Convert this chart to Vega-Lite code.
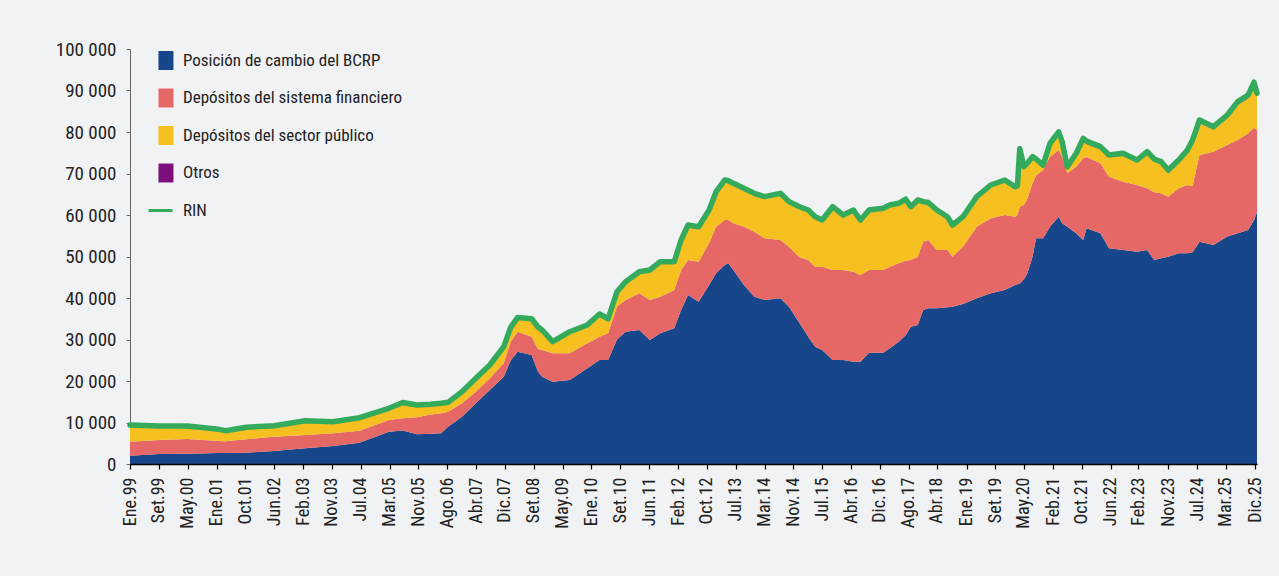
{
  "$schema": "https://vega.github.io/schema/vega-lite/v6.json",
  "width": 1127,
  "height": 415,
  "autosize": {"type": "none"},
  "padding": {"left": 130, "top": 49, "right": 22, "bottom": 112},
  "background": "#f1f2f4",
  "config": {"view": {"stroke": null}, "font": "Roboto Condensed, Liberation Sans Narrow, Arial Narrow, DejaVu Sans Condensed, sans-serif"},
  "data": {"values": [
    {"t":"1999-01-01","a":2000,"b":3370,"c":4030,"d":0,"r":9400},
    {"t":"1999-09-15","a":2410,"b":3370,"c":3380,"d":0,"r":9160},
    {"t":"2000-05-15","a":2480,"b":3540,"c":3140,"d":0,"r":9160},
    {"t":"2001-02-15","a":2650,"b":2890,"c":2810,"d":0,"r":8350},
    {"t":"2001-04-15","a":2650,"b":2850,"c":2530,"d":0,"r":8030},
    {"t":"2001-10-15","a":2720,"b":3230,"c":2890,"d":0,"r":8840},
    {"t":"2002-06-15","a":3130,"b":3450,"c":2650,"d":0,"r":9230},
    {"t":"2003-03-15","a":3780,"b":3210,"c":3440,"d":0,"r":10430},
    {"t":"2003-11-15","a":4340,"b":3050,"c":2810,"d":0,"r":10200},
    {"t":"2004-07-01","a":5130,"b":2900,"c":3130,"d":0,"r":11160},
    {"t":"2005-03-15","a":7790,"b":2810,"c":2820,"d":0,"r":13420},
    {"t":"2005-07-15","a":8100,"b":2900,"c":3800,"d":0,"r":14800},
    {"t":"2005-11-15","a":7160,"b":4090,"c":2970,"d":0,"r":14220},
    {"t":"2006-03-15","a":7300,"b":4600,"c":2500,"d":0,"r":14400},
    {"t":"2006-06-15","a":7390,"b":4820,"c":2410,"d":0,"r":14620},
    {"t":"2006-08-15","a":9000,"b":3610,"c":2250,"d":0,"r":14860},
    {"t":"2006-12-15","a":11410,"b":3210,"c":2810,"d":0,"r":17430},
    {"t":"2007-04-15","a":14620,"b":2810,"c":3220,"d":0,"r":20650},
    {"t":"2007-08-15","a":17830,"b":2820,"c":3210,"d":0,"r":23860},
    {"t":"2007-12-15","a":21040,"b":3220,"c":4010,"d":0,"r":28270},
    {"t":"2008-02-15","a":25000,"b":4500,"c":3500,"d":0,"r":33000},
    {"t":"2008-04-15","a":27060,"b":4820,"c":3430,"d":0,"r":35310},
    {"t":"2008-08-15","a":26270,"b":4410,"c":4310,"d":0,"r":34990},
    {"t":"2008-10-10","a":22240,"b":5500,"c":5260,"d":0,"r":33000},
    {"t":"2008-11-15","a":21040,"b":6430,"c":4820,"d":0,"r":32290},
    {"t":"2009-02-15","a":19830,"b":6840,"c":2800,"d":0,"r":29470},
    {"t":"2009-07-15","a":20230,"b":6440,"c":5210,"d":0,"r":31880},
    {"t":"2009-12-15","a":23060,"b":6020,"c":4420,"d":0,"r":33500},
    {"t":"2010-04-01","a":25060,"b":5620,"c":5460,"d":0,"r":36140},
    {"t":"2010-06-15","a":25060,"b":6420,"c":3520,"d":0,"r":35000},
    {"t":"2010-09-01","a":30000,"b":7900,"c":3600,"d":0,"r":41500},
    {"t":"2010-11-15","a":31880,"b":7640,"c":4410,"d":0,"r":43930},
    {"t":"2011-03-15","a":32290,"b":8840,"c":5210,"d":0,"r":46340},
    {"t":"2011-06-15","a":29880,"b":9640,"c":7230,"d":0,"r":46750},
    {"t":"2011-09-15","a":31480,"b":8850,"c":8420,"d":0,"r":48750},
    {"t":"2012-01-15","a":32690,"b":9240,"c":6820,"d":0,"r":48750},
    {"t":"2012-03-15","a":37110,"b":9640,"c":7230,"d":0,"r":53980},
    {"t":"2012-05-15","a":40730,"b":8430,"c":8430,"d":0,"r":57590},
    {"t":"2012-08-15","a":39120,"b":9630,"c":8440,"d":0,"r":57190},
    {"t":"2012-11-15","a":43130,"b":10050,"c":8020,"d":0,"r":61200},
    {"t":"2013-01-15","a":45950,"b":11240,"c":8430,"d":0,"r":65620},
    {"t":"2013-04-01","a":47950,"b":10850,"c":9630,"d":0,"r":68430},
    {"t":"2013-05-01","a":48360,"b":10440,"c":9500,"d":0,"r":68300},
    {"t":"2013-06-15","a":46750,"b":11250,"c":9630,"d":0,"r":67630},
    {"t":"2013-09-15","a":43130,"b":14060,"c":9240,"d":0,"r":66430},
    {"t":"2013-12-15","a":40330,"b":15650,"c":9240,"d":0,"r":65220},
    {"t":"2014-03-15","a":39520,"b":14870,"c":10030,"d":0,"r":64420},
    {"t":"2014-08-01","a":39920,"b":14060,"c":11240,"d":0,"r":65220},
    {"t":"2014-10-15","a":37900,"b":14470,"c":10850,"d":0,"r":63220},
    {"t":"2015-01-15","a":34000,"b":15800,"c":12200,"d":0,"r":62000},
    {"t":"2015-04-01","a":30680,"b":18480,"c":12040,"d":0,"r":61200},
    {"t":"2015-06-01","a":28270,"b":19280,"c":12040,"d":0,"r":59590},
    {"t":"2015-08-01","a":27470,"b":20080,"c":11250,"d":0,"r":58800},
    {"t":"2015-11-01","a":25060,"b":21690,"c":15250,"d":0,"r":62000},
    {"t":"2016-02-01","a":25060,"b":21690,"c":13250,"d":0,"r":60000},
    {"t":"2016-05-01","a":24660,"b":21680,"c":14860,"d":0,"r":61200},
    {"t":"2016-07-01","a":24660,"b":20880,"c":13260,"d":0,"r":58800},
    {"t":"2016-09-15","a":26830,"b":19920,"c":14450,"d":0,"r":61200},
    {"t":"2017-01-15","a":26830,"b":19920,"c":14860,"d":0,"r":61610},
    {"t":"2017-03-15","a":27870,"b":19680,"c":14860,"d":0,"r":62410},
    {"t":"2017-06-01","a":29470,"b":18890,"c":14460,"d":0,"r":62820},
    {"t":"2017-08-01","a":31000,"b":18000,"c":14800,"d":0,"r":63800},
    {"t":"2017-09-15","a":33100,"b":16060,"c":12840,"d":0,"r":62000},
    {"t":"2017-11-15","a":33500,"b":16460,"c":13660,"d":0,"r":63620},
    {"t":"2018-01-01","a":37110,"b":16470,"c":9640,"d":0,"r":63220},
    {"t":"2018-02-15","a":37520,"b":16460,"c":9020,"d":0,"r":63000},
    {"t":"2018-05-01","a":37520,"b":14050,"c":9630,"d":0,"r":61200},
    {"t":"2018-08-01","a":37760,"b":13810,"c":8020,"d":0,"r":59590},
    {"t":"2018-09-15","a":37920,"b":12040,"c":7630,"d":0,"r":57590},
    {"t":"2018-12-15","a":38550,"b":13820,"c":7220,"d":0,"r":59590},
    {"t":"2019-04-15","a":39920,"b":17270,"c":7230,"d":0,"r":64420},
    {"t":"2019-08-15","a":41130,"b":18060,"c":8040,"d":0,"r":67230},
    {"t":"2019-12-15","a":41930,"b":18070,"c":8430,"d":0,"r":68430},
    {"t":"2020-03-15","a":43130,"b":16460,"c":7240,"d":0,"r":66830},
    {"t":"2020-04-05","a":43300,"b":16700,"c":7000,"d":0,"r":67000},
    {"t":"2020-04-25","a":43500,"b":18500,"c":14000,"d":0,"r":76000},
    {"t":"2020-06-01","a":44500,"b":17910,"c":9240,"d":0,"r":71650},
    {"t":"2020-07-01","a":45950,"b":18050,"c":8500,"d":0,"r":72500},
    {"t":"2020-08-15","a":49960,"b":17670,"c":6430,"d":0,"r":74060},
    {"t":"2020-09-15","a":54390,"b":15110,"c":4000,"d":0,"r":73500},
    {"t":"2020-11-15","a":54390,"b":16460,"c":1150,"d":0,"r":72000},
    {"t":"2021-01-15","a":57190,"b":16870,"c":3220,"d":0,"r":77280},
    {"t":"2021-04-01","a":59590,"b":16080,"c":4330,"d":0,"r":80000},
    {"t":"2021-05-01","a":58000,"b":16000,"c":3480,"d":200,"r":77680},
    {"t":"2021-06-15","a":57190,"b":12860,"c":800,"d":800,"r":71650},
    {"t":"2021-09-01","a":55590,"b":16060,"c":2920,"d":300,"r":74870},
    {"t":"2021-11-01","a":53980,"b":19680,"c":4120,"d":700,"r":78480},
    {"t":"2021-12-01","a":56790,"b":17210,"c":3100,"d":700,"r":77800},
    {"t":"2022-04-01","a":55590,"b":16860,"c":3420,"d":600,"r":76470},
    {"t":"2022-06-15","a":51970,"b":17260,"c":4730,"d":500,"r":74460},
    {"t":"2022-10-15","a":51570,"b":16460,"c":6240,"d":600,"r":74870},
    {"t":"2023-02-15","a":51160,"b":16070,"c":5520,"d":500,"r":73250},
    {"t":"2023-05-15","a":51570,"b":14860,"c":8240,"d":600,"r":75270},
    {"t":"2023-07-15","a":49160,"b":16340,"c":7400,"d":600,"r":73500},
    {"t":"2023-09-15","a":49560,"b":15660,"c":6930,"d":700,"r":72850},
    {"t":"2023-11-15","a":49960,"b":14460,"c":5630,"d":800,"r":70850},
    {"t":"2024-02-15","a":50770,"b":15660,"c":6120,"d":700,"r":73250},
    {"t":"2024-05-01","a":50770,"b":16460,"c":7840,"d":600,"r":75670},
    {"t":"2024-06-15","a":51000,"b":16000,"c":10580,"d":500,"r":78080},
    {"t":"2024-08-15","a":53580,"b":20880,"c":7730,"d":700,"r":82890},
    {"t":"2024-12-15","a":52770,"b":22500,"c":5310,"d":700,"r":81280},
    {"t":"2025-04-15","a":54790,"b":22080,"c":6530,"d":700,"r":84100},
    {"t":"2025-07-15","a":55590,"b":22490,"c":8430,"d":800,"r":87310},
    {"t":"2025-10-15","a":56390,"b":23300,"c":8430,"d":800,"r":88920},
    {"t":"2025-12-05","a":58800,"b":22200,"c":10200,"d":800,"r":92000},
    {"t":"2025-12-31","a":60800,"b":19690,"c":8040,"d":800,"r":89330}
  ]},
  "encoding": {
    "x": {
      "field": "t", "type": "temporal",
      "scale": {"type": "utc", "domain": [{"year": 1999, "month": 1, "date": 1, "utc": true}, {"year": 2025, "month": 12, "date": 31, "utc": true}]},
      "axis": {
        "title": null, "grid": false, "zindex": 1,
        "values": [
          {"year":1999,"month":1,"date":1,"utc":true},
          {"year":1999,"month":9,"date":10,"utc":true},
          {"year":2000,"month":5,"date":20,"utc":true},
          {"year":2001,"month":1,"date":27,"utc":true},
          {"year":2001,"month":10,"date":7,"utc":true},
          {"year":2002,"month":6,"date":16,"utc":true},
          {"year":2003,"month":2,"date":23,"utc":true},
          {"year":2003,"month":11,"date":3,"utc":true},
          {"year":2004,"month":7,"date":12,"utc":true},
          {"year":2005,"month":3,"date":22,"utc":true},
          {"year":2005,"month":11,"date":29,"utc":true},
          {"year":2006,"month":8,"date":8,"utc":true},
          {"year":2007,"month":4,"date":18,"utc":true},
          {"year":2007,"month":12,"date":26,"utc":true},
          {"year":2008,"month":9,"date":4,"utc":true},
          {"year":2009,"month":5,"date":14,"utc":true},
          {"year":2010,"month":1,"date":21,"utc":true},
          {"year":2010,"month":9,"date":30,"utc":true},
          {"year":2011,"month":6,"date":10,"utc":true},
          {"year":2012,"month":2,"date":18,"utc":true},
          {"year":2012,"month":10,"date":27,"utc":true},
          {"year":2013,"month":7,"date":6,"utc":true},
          {"year":2014,"month":3,"date":16,"utc":true},
          {"year":2014,"month":11,"date":23,"utc":true},
          {"year":2015,"month":7,"date":31,"utc":true},
          {"year":2016,"month":4,"date":11,"utc":true},
          {"year":2016,"month":12,"date":19,"utc":true},
          {"year":2017,"month":8,"date":29,"utc":true},
          {"year":2018,"month":4,"date":30,"utc":true},
          {"year":2019,"month":1,"date":16,"utc":true},
          {"year":2019,"month":9,"date":25,"utc":true},
          {"year":2020,"month":5,"date":31,"utc":true},
          {"year":2021,"month":2,"date":11,"utc":true},
          {"year":2021,"month":10,"date":21,"utc":true},
          {"year":2022,"month":6,"date":30,"utc":true},
          {"year":2023,"month":2,"date":28,"utc":true},
          {"year":2023,"month":11,"date":17,"utc":true},
          {"year":2024,"month":7,"date":27,"utc":true},
          {"year":2025,"month":3,"date":31,"utc":true},
          {"year":2025,"month":12,"date":14,"utc":true}
        ],
        "labelExpr": "['Ene','Feb','Mar','Abr','May','Jun','Jul','Ago','Set','Oct','Nov','Dic'][utcmonth(datum.value)] + '.' + utcFormat(datum.value, '%y')",
        "labelAngle": -90, "labelOverlap": false, "labelBound": false, "labelFlush": false,
        "labelFontSize": 18, "labelColor": "#222222", "labelPadding": 8,
        "domainColor": "#000000", "domainWidth": 1.5, "tickColor": "#000000", "tickWidth": 1.2, "tickSize": 5
      }
    }
  },
  "layer": [
    {
      "transform": [{"fold": ["a", "b", "c", "d"], "as": ["k", "v"]}],
      "mark": {"type": "area"},
      "encoding": {
        "y": {
          "field": "v", "type": "quantitative", "stack": "zero",
          "scale": {"domain": [0, 100000], "nice": false},
          "axis": {
            "title": null, "grid": false,
            "values": [0, 10000, 20000, 30000, 40000, 50000, 60000, 70000, 80000, 90000, 100000],
            "labelExpr": "replace(format(datum.value, ','), ',', ' ')",
            "labelFontSize": 19, "labelColor": "#222222", "labelPadding": 10,
            "domainColor": "#666666", "domainWidth": 1, "tickColor": "#666666", "tickSize": 4
          }
        },
        "color": {
          "field": "k", "type": "nominal",
          "scale": {"domain": ["a", "b", "c", "d", "e"], "range": ["#18468a", "#e66866", "#f5c020", "#7d0f7d", "#34aa5c"]},
          "legend": {
            "title": null, "orient": "none", "legendX": 22, "legendY": 3, "padding": 0,
            "symbolSize": 576, "rowPadding": 18.5, "labelOffset": 14, "labelLimit": 0,
            "labelFontSize": 17, "labelColor": "#222222",
            "labelExpr": "datum.label == 'a' ? 'Posición de cambio del BCRP' : datum.label == 'b' ? 'Depósitos del sistema financiero' : datum.label == 'c' ? 'Depósitos del sector público' : datum.label == 'd' ? 'Otros' : 'RIN'",
            "encode": {
              "symbols": {
                "update": {
                  "shape": {"signal": "datum.value === 'e' ? 'stroke' : 'M-0.17,-0.79H1.08V0.79H-0.17Z'"},
                  "fill": {"signal": "datum.value === 'e' ? 'transparent' : scale('color', datum.value)"},
                  "stroke": {"signal": "datum.value === 'e' ? scale('color', datum.value) : 'transparent'"},
                  "strokeWidth": {"signal": "datum.value === 'e' ? 3 : 0"},
                  "opacity": {"value": 1},
                  "fillOpacity": {"value": 1}
                }
              }
            }
          }
        },
        "order": {"field": "k", "sort": "ascending"}
      }
    },
    {
      "mark": {"type": "line", "strokeWidth": 5.5, "strokeJoin": "round", "strokeCap": "round"},
      "encoding": {
        "y": {"field": "r", "type": "quantitative"},
        "color": {"datum": "e", "type": "nominal"}
      }
    }
  ]
}
